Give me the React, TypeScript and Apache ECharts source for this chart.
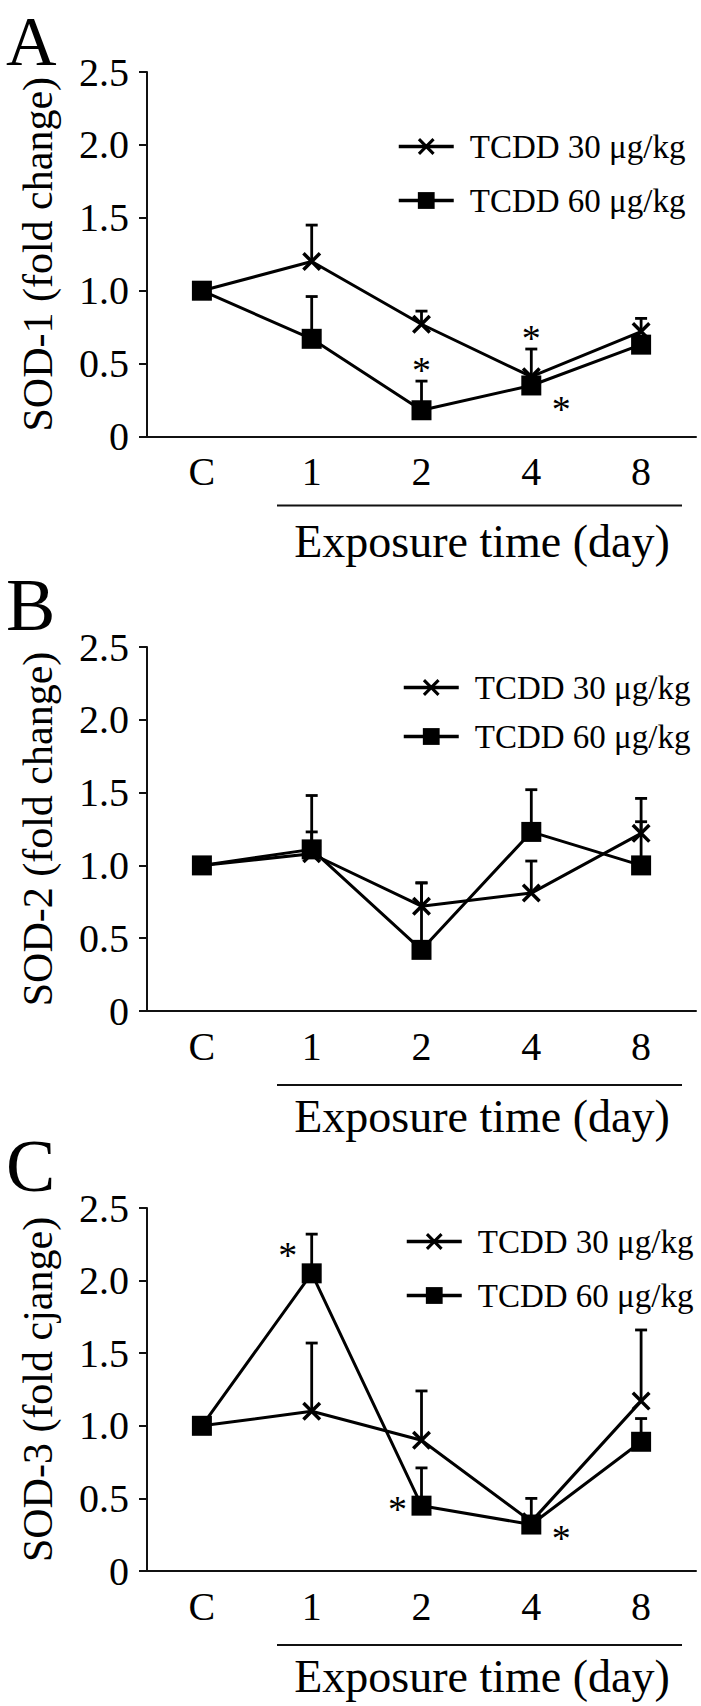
import React, { useEffect, useRef } from "react";
import * as echarts from "echarts";

// ---------- data ----------
const categories = ["C", "1", "2", "4", "8"];
const yTicks = [0, 0.5, 1.0, 1.5, 2.0, 2.5];
const name30 = "TCDD 30 μg/kg";
const name60 = "TCDD 60 μg/kg";

// SOD-1
const sod1_30 = [1.0, 1.2, 0.77, 0.41, 0.72];
const sod1_30_err = [null, 1.45, 0.86, 0.6, 0.81];
const sod1_60 = [1.0, 0.67, 0.18, 0.35, 0.63];
const sod1_60_err = [null, 0.96, 0.38, null, null];
// SOD-2
const sod2_30 = [1.0, 1.08, 0.72, 0.81, 1.22];
const sod2_30_err = [null, 1.23, 0.88, 1.03, 1.46];
const sod2_60 = [1.0, 1.11, 0.42, 1.23, 1.0];
const sod2_60_err = [null, 1.48, 0.88, 1.52, 1.3];
// SOD-3
const sod3_30 = [1.0, 1.1, 0.9, 0.34, 1.17];
const sod3_30_err = [null, 1.57, 1.24, 0.5, 1.66];
const sod3_60 = [1.0, 2.05, 0.45, 0.32, 0.89];
const sod3_60_err = [null, 2.32, 0.71, null, 1.05];

// significance markers (*)
const stars1 = [
  { day: "2", level: 0.5, side: "center" },
  { day: "4", level: 0.72, side: "center" },
  { day: "4", level: 0.23, side: "right" },
];
const stars2: { day: string; level: number; side: string }[] = [];
const stars3 = [
  { day: "1", level: 2.22, side: "left" },
  { day: "2", level: 0.47, side: "left" },
  { day: "4", level: 0.27, side: "right" },
];

const panelLetters = ["A", "B", "C"];
const yTitles = ["SOD-1 (fold change)", "SOD-2 (fold change)", "SOD-3 (fold cjange)"];
const xTitle = "Exposure time (day)";

// ---------- layout ----------
const FONT = '"Liberation Serif", "Times New Roman", serif';
const gridTops = [72, 647, 1208];
const gridHeights = [364.5, 364, 363];
const gridLeft = 147;
const gridWidth = 549;
const legendLefts = [392, 397, 400];
const legendTops = [125, 666, 1220];
const legendGaps = [21, 16, 21];
const underlineOffsets = [69, 74, 74];
const letterY = [41, 605, 1166];
const letterSize = [70, 74, 74];
const sideOffset: Record<string, number> = { center: 0, left: -24, right: 30 };

const xMarker =
  "path://M0,1.3 L1.3,0 L10,8.7 L8.7,10 Z M8.7,0 L10,1.3 L1.3,10 L0,8.7 Z";

const panels = [
  { s30: sod1_30, e30: sod1_30_err, s60: sod1_60, e60: sod1_60_err, stars: stars1 },
  { s30: sod2_30, e30: sod2_30_err, s60: sod2_60, e60: sod2_60_err, stars: stars2 },
  { s30: sod3_30, e30: sod3_30_err, s60: sod3_60, e60: sod3_60_err, stars: stars3 },
];

function errData(vals: number[], errs: (number | null)[]) {
  const out: number[][] = [];
  vals.forEach((v, i) => {
    const e = errs[i];
    if (e != null) out.push([i, v, e]);
  });
  return out;
}

function errRender(params: any, api: any) {
  const base = api.coord([api.value(0), api.value(1)]);
  const top = api.coord([api.value(0), api.value(2)]);
  const st = { stroke: "#000", lineWidth: 2.8 };
  return {
    type: "group",
    children: [
      { type: "line", shape: { x1: base[0], y1: base[1], x2: top[0], y2: top[1] }, style: st },
      { type: "line", shape: { x1: top[0] - 6, y1: top[1], x2: top[0] + 6, y2: top[1] }, style: st },
    ],
  };
}

function starRender(params: any, api: any) {
  const p = api.coord([api.value(0), api.value(1)]);
  return {
    type: "text",
    x: p[0] + api.value(2),
    y: p[1] + 6,
    style: {
      text: "*",
      font: `38px ${FONT}`,
      fill: "#000",
      align: "center",
      verticalAlign: "middle",
    },
  };
}

export default function App() {
  const ref = useRef<HTMLDivElement>(null);

  useEffect(() => {
    if (!ref.current) return;
    const chart = echarts.init(ref.current, null, { renderer: "svg" });

    const grid = panels.map((_, i) => ({
      left: gridLeft,
      top: gridTops[i],
      width: gridWidth,
      height: gridHeights[i],
      containLabel: false,
      outerBoundsMode: "none",
    }));

    const xAxis = panels.map((_, i) => ({
      type: "category",
      gridIndex: i,
      data: categories,
      boundaryGap: true,
      axisLine: { show: true, lineStyle: { color: "#111", width: 2 } },
      axisTick: { show: false },
      axisLabel: { color: "#000", fontFamily: FONT, fontSize: 40, margin: 15 },
      splitLine: { show: false },
    }));

    const yAxis = panels.map((_, i) => ({
      type: "value",
      gridIndex: i,
      min: yTicks[0],
      max: yTicks[yTicks.length - 1],
      interval: 0.5,
      name: yTitles[i],
      nameLocation: "middle",
      nameGap: 88,
      nameRotate: 90,
      nameTextStyle: { color: "#000", fontFamily: FONT, fontSize: 42 },
      axisLine: { show: true, lineStyle: { color: "#111", width: 2 } },
      axisTick: { show: true, length: 8, lineStyle: { color: "#111", width: 2 } },
      axisLabel: {
        color: "#000",
        fontFamily: FONT,
        fontSize: 40,
        margin: 18,
        formatter: (v: number) => (v === 0 ? "0" : v.toFixed(1)),
      },
      splitLine: { show: false },
    }));

    const series: any[] = [];
    panels.forEach((p, i) => {
      series.push({
        type: "custom",
        xAxisIndex: i,
        yAxisIndex: i,
        z: 1,
        silent: true,
        renderItem: errRender,
        encode: { x: 0, y: [1, 2] },
        data: [...errData(p.s30, p.e30), ...errData(p.s60, p.e60)],
      });
      series.push({
        name: name30,
        type: "line",
        xAxisIndex: i,
        yAxisIndex: i,
        z: 2,
        data: p.s30,
        symbol: xMarker,
        symbolSize: 19,
        symbolKeepAspect: true,
        showAllSymbol: true,
        lineStyle: { color: "#000", width: 3 },
        itemStyle: { color: "#000", borderWidth: 0 },
      });
      series.push({
        name: name60,
        type: "line",
        xAxisIndex: i,
        yAxisIndex: i,
        z: 3,
        data: p.s60,
        symbol: "rect",
        symbolSize: 20,
        showAllSymbol: true,
        lineStyle: { color: "#000", width: 3 },
        itemStyle: { color: "#000", borderWidth: 0 },
      });
      if (p.stars.length) {
        series.push({
          type: "custom",
          xAxisIndex: i,
          yAxisIndex: i,
          z: 4,
          silent: true,
          renderItem: starRender,
          encode: { x: 0, y: 1 },
          data: p.stars.map((s) => [categories.indexOf(s.day), s.level, sideOffset[s.side]]),
        });
      }
    });

    const legend = panels.map((_, i) => ({
      orient: "vertical",
      left: legendLefts[i],
      top: legendTops[i],
      itemWidth: 55,
      itemHeight: 21,
      itemGap: legendGaps[i],
      selectedMode: false,
      data: [name30, name60],
      lineStyle: { color: "#000", width: 3.5 },
      textStyle: { color: "#000", fontFamily: FONT, fontSize: 33, padding: [0, 0, 0, 11] },
    }));

    const graphic: any[] = [];
    panels.forEach((_, i) => {
      const bottom = gridTops[i] + gridHeights[i];
      graphic.push({
        type: "text",
        style: {
          text: panelLetters[i],
          x: 6,
          y: letterY[i],
          font: `${letterSize[i]}px ${FONT}`,
          fill: "#000",
          align: "left",
          verticalAlign: "middle",
        },
      });
      graphic.push({
        type: "line",
        shape: { x1: 277, y1: bottom + underlineOffsets[i], x2: 682, y2: bottom + underlineOffsets[i] },
        style: { stroke: "#111", lineWidth: 2 },
      });
      graphic.push({
        type: "text",
        style: {
          text: xTitle,
          x: 482,
          y: bottom + 105,
          font: `46px ${FONT}`,
          fill: "#000",
          align: "center",
          verticalAlign: "middle",
        },
      });
    });

    chart.setOption({
      animation: false,
      backgroundColor: "#fff",
      textStyle: { fontFamily: FONT },
      grid,
      xAxis,
      yAxis,
      legend,
      series,
      graphic,
    });

    return () => chart.dispose();
  }, []);

  return (
    <div
      ref={ref}
      style={{ position: "absolute", left: 0, top: 0, width: 701, height: 1706, background: "#fff" }}
    />
  );
}
